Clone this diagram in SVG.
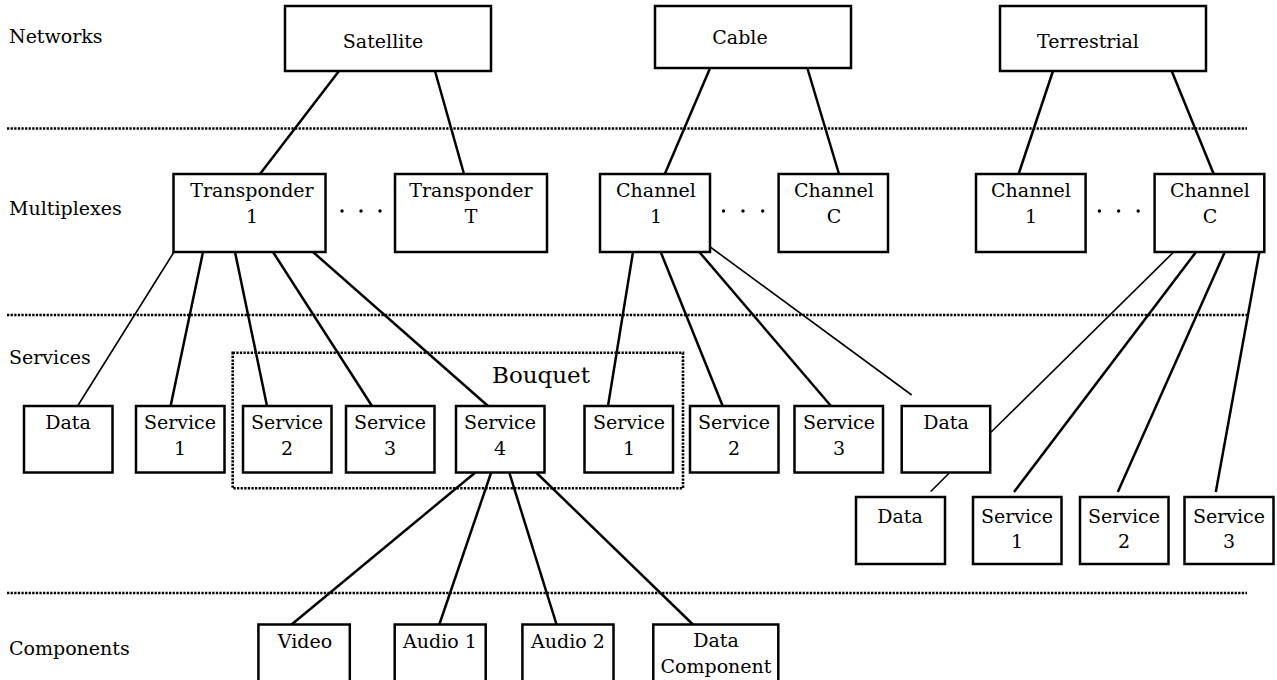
<svg xmlns="http://www.w3.org/2000/svg" width="1277" height="680" viewBox="0 0 1277 680">
<style>
text{font-family:"DejaVu Serif","Liberation Serif",serif;font-size:19px;fill:#000}
.c{text-anchor:middle}
.box{fill:#fff;stroke:#000;stroke-width:2.5}
.sep{stroke:#000;stroke-width:2.6;stroke-dasharray:2.3 1.3;fill:none}
.th{stroke:#000;stroke-width:2.5;fill:none}
.tn{stroke:#000;stroke-width:1.6;fill:none}
.bq{font-size:23px}
</style>
<rect width="1277" height="680" fill="#fff"/>
<!-- layer separators and labels -->
<g id="layers">
<line class="sep" x1="7" y1="128.5" x2="1247" y2="128.5"/>
<line class="sep" x1="7" y1="315" x2="1247" y2="315"/>
<line class="sep" x1="7" y1="593" x2="1247" y2="593"/>
<text x="9" y="43">Networks</text>
<text x="9" y="215">Multiplexes</text>
<text x="9" y="364">Services</text>
<text x="9" y="655">Components</text>
</g>
<g id="bouquet">
<rect class="sep" x="232.7" y="352.7" width="450.3" height="135.6"/>
<text class="bq" x="492" y="383">Bouquet</text>
</g>
<g id="connectors">
<line class="th" x1="339" y1="71" x2="260" y2="174"/>
<line class="th" x1="435" y1="71" x2="464" y2="174"/>
<line class="th" x1="709.7" y1="69" x2="664.8" y2="174"/>
<line class="th" x1="807.6" y1="69" x2="839" y2="174"/>
<line class="th" x1="1053" y1="71" x2="1018.6" y2="174"/>
<line class="th" x1="1171.7" y1="71" x2="1213.7" y2="174"/>
<line class="tn" x1="174" y1="252" x2="77.6" y2="406"/>
<line class="th" x1="203" y1="252" x2="170.6" y2="406"/>
<line class="th" x1="235" y1="252" x2="267" y2="406"/>
<line class="th" x1="273" y1="252" x2="372" y2="406"/>
<line class="th" x1="313" y1="252" x2="488" y2="406"/>
<line class="th" x1="633" y1="252" x2="608" y2="406"/>
<line class="th" x1="660.7" y1="252" x2="722.7" y2="406"/>
<line class="th" x1="699.3" y1="252" x2="831" y2="406"/>
<line class="tn" x1="707.5" y1="245" x2="911.7" y2="395"/>
<line class="tn" x1="1173.7" y1="252" x2="990.7" y2="432.5"/>
<line class="th" x1="1196" y1="252" x2="1014" y2="492"/>
<line class="th" x1="1224.8" y1="252" x2="1117.8" y2="492"/>
<line class="th" x1="1259.4" y1="252" x2="1215.8" y2="492"/>
<line class="tn" x1="949.3" y1="473" x2="930.7" y2="491.5"/>
<line class="th" x1="474.7" y1="473" x2="289.8" y2="626"/>
<line class="th" x1="491" y1="473" x2="438.8" y2="626"/>
<line class="th" x1="509.4" y1="473" x2="557" y2="626"/>
<line class="th" x1="536.7" y1="473" x2="694.5" y2="626"/>
</g>
<g id="dots">
<circle cx="342" cy="211" r="1.7"/><circle cx="361" cy="211" r="1.7"/><circle cx="380" cy="211" r="1.7"/>
<circle cx="723.5" cy="211" r="1.7"/><circle cx="743" cy="211" r="1.7"/><circle cx="762.7" cy="211" r="1.7"/>
<circle cx="1099.4" cy="211" r="1.7"/><circle cx="1118.6" cy="211" r="1.7"/><circle cx="1138.2" cy="211" r="1.7"/>
</g>
<!-- Networks -->
<g id="satellite"><rect class="box" x="285" y="6" width="206" height="65"/><text class="c" x="383" y="48">Satellite</text></g>
<g id="cable"><rect class="box" x="655" y="6" width="196" height="62"/><text class="c" x="740" y="44">Cable</text></g>
<g id="terrestrial"><rect class="box" x="1000" y="6" width="206" height="65"/><text class="c" x="1088" y="48">Terrestrial</text></g>
<!-- Multiplexes -->
<g id="transponder1"><rect class="box" x="173.5" y="174" width="152" height="78"/><text class="c" x="252" y="197">Transponder</text><text class="c" x="252" y="223">1</text></g>
<g id="transponderT"><rect class="box" x="395" y="174" width="152" height="78"/><text class="c" x="471" y="197">Transponder</text><text class="c" x="471" y="223">T</text></g>
<g id="cableChannel1"><rect class="box" x="600" y="174" width="110" height="78"/><text class="c" x="656" y="197">Channel</text><text class="c" x="656" y="223">1</text></g>
<g id="cableChannelC"><rect class="box" x="778.6" y="174" width="109.4" height="78"/><text class="c" x="834" y="197">Channel</text><text class="c" x="834" y="223">C</text></g>
<g id="terrChannel1"><rect class="box" x="976" y="174" width="109.6" height="78"/><text class="c" x="1031" y="197">Channel</text><text class="c" x="1031" y="223">1</text></g>
<g id="terrChannelC"><rect class="box" x="1154.6" y="174" width="109.7" height="78"/><text class="c" x="1210" y="197">Channel</text><text class="c" x="1210" y="223">C</text></g>
<!-- Services -->
<g id="satData"><rect class="box" x="24" y="406" width="88.5" height="66.5"/><text class="c" x="68" y="429">Data</text></g>
<g id="satService1"><rect class="box" x="136" y="406" width="88.5" height="66.5"/><text class="c" x="180" y="429">Service</text><text class="c" x="180" y="455">1</text></g>
<g id="satService2"><rect class="box" x="243" y="406" width="88.5" height="66.5"/><text class="c" x="287" y="429">Service</text><text class="c" x="287" y="455">2</text></g>
<g id="satService3"><rect class="box" x="346" y="406" width="88.5" height="66.5"/><text class="c" x="390" y="429">Service</text><text class="c" x="390" y="455">3</text></g>
<g id="satService4"><rect class="box" x="456" y="406" width="88.5" height="66.5"/><text class="c" x="500" y="429">Service</text><text class="c" x="500" y="455">4</text></g>
<g id="cabService1"><rect class="box" x="584.5" y="406" width="88.5" height="66.5"/><text class="c" x="629" y="429">Service</text><text class="c" x="629" y="455">1</text></g>
<g id="cabService2"><rect class="box" x="690" y="406" width="88.5" height="66.5"/><text class="c" x="734" y="429">Service</text><text class="c" x="734" y="455">2</text></g>
<g id="cabService3"><rect class="box" x="794.5" y="406" width="88.5" height="66.5"/><text class="c" x="839" y="429">Service</text><text class="c" x="839" y="455">3</text></g>
<g id="cabData"><rect class="box" x="901.7" y="406" width="88.5" height="66.5"/><text class="c" x="946" y="429">Data</text></g>
<g id="terData"><rect class="box" x="856" y="497" width="89" height="67"/><text class="c" x="900" y="523">Data</text></g>
<g id="terService1"><rect class="box" x="973" y="497" width="88.5" height="67"/><text class="c" x="1017" y="523">Service</text><text class="c" x="1017" y="548">1</text></g>
<g id="terService2"><rect class="box" x="1080" y="497" width="88.5" height="67"/><text class="c" x="1124" y="523">Service</text><text class="c" x="1124" y="548">2</text></g>
<g id="terService3"><rect class="box" x="1184.5" y="497" width="89" height="67"/><text class="c" x="1229" y="523">Service</text><text class="c" x="1229" y="548">3</text></g>
<!-- Components -->
<g id="video"><rect class="box" x="258.4" y="624.5" width="91.4" height="70"/><text class="c" x="305" y="648">Video</text></g>
<g id="audio1"><rect class="box" x="394.7" y="624.5" width="91" height="70"/><text class="c" x="440" y="648">Audio 1</text></g>
<g id="audio2"><rect class="box" x="522.4" y="624.5" width="91.1" height="70"/><text class="c" x="568" y="648">Audio 2</text></g>
<g id="dataComponent"><rect class="box" x="653.3" y="624.5" width="125" height="70"/><text class="c" x="716" y="647">Data</text><text class="c" x="716" y="673">Component</text></g>
</svg>
